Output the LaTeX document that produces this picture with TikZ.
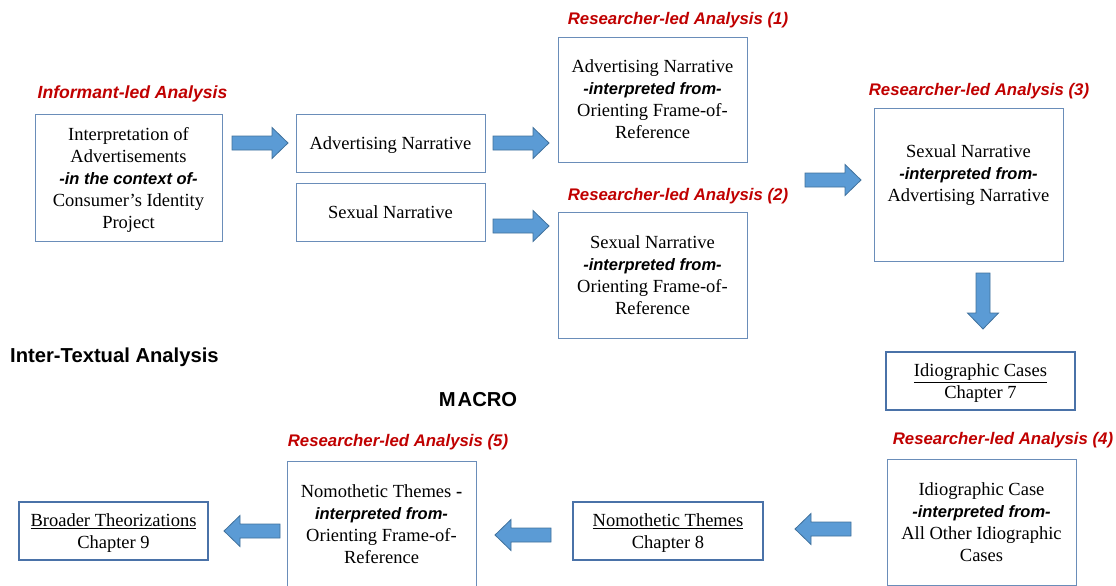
\documentclass[tikz,border=0pt]{standalone}
\usepackage{fontspec}
\setmainfont{Liberation Serif}
\newfontfamily\arialfont{Liberation Sans}
\usetikzlibrary{calc}

\definecolor{phasered}{HTML}{C00000}
\definecolor{boxline}{HTML}{6A8DB9}
\definecolor{chapline}{HTML}{4A72A8}
\definecolor{arrowfill}{HTML}{5B9BD5}
\definecolor{arrowline}{HTML}{41719C}

% bold italic sans inserts inside the serif boxes
\newcommand\bitext[1]{{\arialfont\bfseries\itshape\fontsize{16.5}{22}\selectfont #1}}

\tikzset{
  box/.style={draw=boxline, line width=0.9pt, minimum width=189pt,
    align=center, inner sep=2pt, text depth=0pt, font=\fontsize{18.5}{22}\selectfont},
  tallbox/.style={box, minimum height=126pt},
  chapbox/.style={box, draw=chapline, line width=2.4pt, minimum height=58pt},
  phase/.style={text=phasered, inner sep=0pt,
    font=\arialfont\bfseries\itshape\fontsize{16.8}{20}\selectfont},
  heading/.style={inner sep=0pt, font=\arialfont\bfseries\fontsize{20.2}{22}\selectfont},
  % block arrow from the start point to the target point
  blockarrow/.style={fill=arrowfill, draw=arrowline, line width=0.8pt,
    to path={
      ($(\tikztostart)!7pt!90:(\tikztotarget)$) --
      ($($(\tikztotarget)!16pt!(\tikztostart)$)!7pt!90:(\tikztotarget)$) --
      ($($(\tikztotarget)!16pt!(\tikztostart)$)!15.5pt!90:(\tikztotarget)$) --
      (\tikztotarget) --
      ($($(\tikztotarget)!16pt!(\tikztostart)$)!15.5pt!-90:(\tikztotarget)$) --
      ($($(\tikztotarget)!16pt!(\tikztostart)$)!7pt!-90:(\tikztotarget)$) --
      ($(\tikztostart)!7pt!-90:(\tikztotarget)$) -- cycle}}
}

\begin{document}
\begin{tikzpicture}[x=1pt, y=-1pt]
\useasboundingbox (0,0) rectangle (1116,586);

% informant-led stage
\node[phase, font=\arialfont\bfseries\itshape\fontsize{17.6}{20}\selectfont] (lblinf) at (132.5,94) {Informant-led Analysis};
\node[box, minimum width=187pt, minimum height=127pt] (interp) at (128.5,177.5)
  {Interpretation of\\ Advertisements\\ \bitext{-in the context of-}\\ Consumer’s Identity\\ Project};

\node[box, minimum height=58pt] (advn) at (390.5,143) {Advertising Narrative};
\node[box, minimum height=58pt] (sexn) at (390.5,212) {Sexual Narrative};

% researcher-led stages 1 and 2
\node[phase] (lbl1) at (678,20) {Researcher-led Analysis (1)};
\node[tallbox, minimum height=125pt] (rla1) at (652.5,99.5)
  {Advertising Narrative\\ \bitext{-interpreted from-}\\ Orienting Frame-of-\\ Reference};
\node[phase] (lbl2) at (678,196) {Researcher-led Analysis (2)};
\node[tallbox] (rla2) at (652.5,275)
  {Sexual Narrative\\ \bitext{-interpreted from-}\\ Orienting Frame-of-\\ Reference};

% researcher-led stage 3
\node[phase] (lbl3) at (979,91) {Researcher-led Analysis (3)};
\node[box, minimum height=153pt] (rla3) at (968.5,184.5)
  {Sexual Narrative\\ \bitext{-interpreted from-}\\ Advertising Narrative\\ \mbox{}};

\node[chapbox] (ch7) at (980.5,381) {\underline{Idiographic Cases}\\ Chapter 7};

% inter-textual level
\node[heading, anchor=west] (intertext) at (10,357) {Inter-Textual Analysis};
\node[heading] (macro) at (478,400) {M\hspace{2pt}ACRO};

\node[phase] (lbl4) at (1003,440) {Researcher-led Analysis (4)};
\node[tallbox] (rla4) at (981.5,522)
  {Idiographic Case\\ \bitext{-interpreted from-}\\ All Other Idiographic\\ Cases};

\node[chapbox, minimum width=190pt] (ch8) at (668,531) {\underline{Nomothetic Themes}\\ Chapter 8};

\node[phase] (lbl5) at (398,442) {Researcher-led Analysis (5)};
\node[tallbox] (rla5) at (381.5,524)
  {Nomothetic Themes \textbf{-}\\ \bitext{interpreted from-}\\ Orienting Frame-of-\\ Reference};

\node[chapbox] (ch9) at (113.5,531) {\underline{Broader Theorizations}\\ Chapter 9};

% flow arrows
\draw[blockarrow] (232,143) to (288,143);
\draw[blockarrow] (493,143) to (549,143);
\draw[blockarrow] (493,226) to (549,226);
\draw[blockarrow] (805,180) to (861,180);
\draw[blockarrow] (983,273) to (983,329);
\draw[blockarrow] (851,529) to (795,529);
\draw[blockarrow] (551,535) to (495,535);
\draw[blockarrow] (280,531) to (224,531);
\end{tikzpicture}
\end{document}
